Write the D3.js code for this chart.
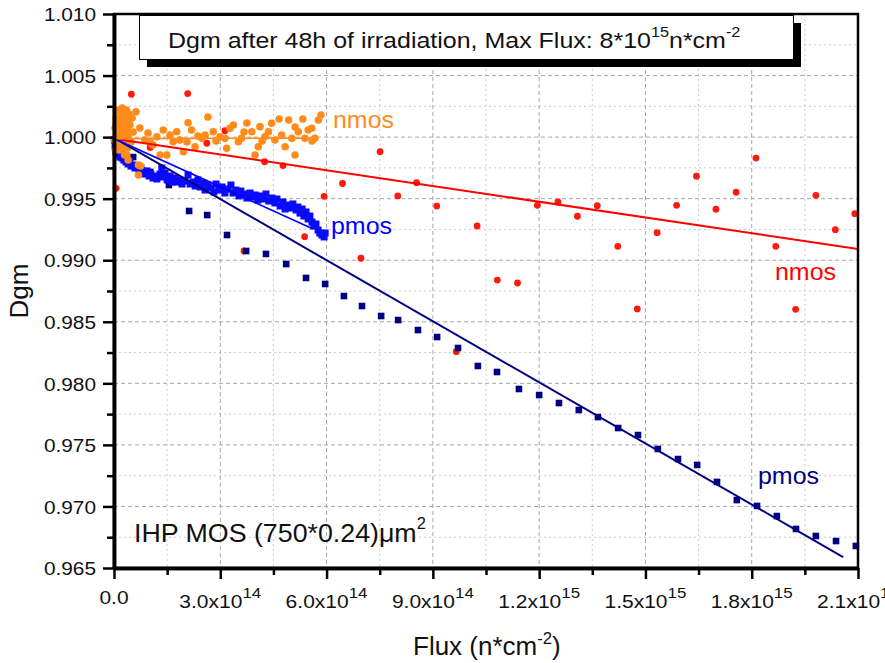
<!DOCTYPE html>
<html>
<head>
<meta charset="utf-8">
<script src="https://cdn.jsdelivr.net/npm/d3@7"></script>
<style>
body { margin: 0; background: #fff; }
text { font-family: "Liberation Sans", Arial, sans-serif; fill: #111; }
.grid-major { stroke: #a6a6a6; stroke-width: 1; stroke-dasharray: 4,3; }
.grid-minor { stroke: #cccccc; stroke-width: 1; stroke-dasharray: 2,3; }
</style>
</head>
<body>
<div id="chart"></div>
<script>
"use strict"

// flux in units of 1e14 n*cm^-2, Dgm
const nmosRed = [[0.05,0.99865],[0.06,0.99584],[0.49,1.00348],[1.02,0.99916],[2.08,1.00354],[2.62,0.99950],[3.13,1.00052],[3.67,0.99075],[4.25,0.99800],[4.77,0.99769],[5.38,0.99191],[5.93,0.99519],[6.45,0.99623],[6.97,0.99016],[7.51,0.99882],[8.01,0.99522],[8.54,0.99630],[9.11,0.99440],[9.66,0.98257],[10.25,0.99278],[10.82,0.98839],[11.39,0.98815],[11.95,0.99446],[12.53,0.99473],[13.08,0.99357],[13.64,0.99443],[14.22,0.99113],[14.77,0.98604],[15.33,0.99224],[15.88,0.99446],[16.44,0.99682],[16.99,0.99414],[17.56,0.99552],[18.12,0.99830],[18.68,0.99113],[19.24,0.98601],[19.81,0.99527],[20.36,0.99248],[20.91,0.99378]];

const pmosNavy = [[0.54,0.99838],[1.02,0.99717],[1.55,0.99611],[2.12,0.99400],[2.63,0.99367],[3.19,0.99205],[3.73,0.99075],[4.29,0.99051],[4.86,0.98969],[5.42,0.98856],[5.96,0.98807],[6.49,0.98709],[7.00,0.98628],[7.54,0.98547],[8.02,0.98514],[8.58,0.98433],[9.12,0.98376],[9.71,0.98287],[10.27,0.98141],[10.81,0.98092],[11.43,0.97954],[12.00,0.97905],[12.56,0.97840],[13.12,0.97783],[13.66,0.97726],[14.23,0.97637],[14.79,0.97580],[15.35,0.97467],[15.92,0.97385],[16.46,0.97337],[17.02,0.97199],[17.58,0.97052],[18.15,0.97004],[18.71,0.96922],[19.25,0.96817],[19.81,0.96760],[20.38,0.96719],[20.94,0.96679]];

const pmosBlue = [[0.01,0.99977],[0.03,0.99928],[0.06,0.99895],[0.08,0.99871],[0.11,0.99855],[0.14,0.99887],[0.17,0.99838],[0.20,0.99863],[0.23,0.99830],[0.25,0.99847],[0.28,0.99814],[0.31,0.99830],[0.34,0.99798],[0.37,0.99814],[0.40,0.99782],[0.45,0.99798],[0.48,0.99765],[0.54,0.99773],[0.59,0.99749],[0.65,0.99765],[0.71,0.99733],[0.76,0.99749],[0.82,0.99725],[0.87,0.99700],[0.93,0.99725],[0.99,0.99684],[1.04,0.99700],[1.10,0.99668],[1.16,0.99684],[1.21,0.99660],[1.30,0.99700],[1.35,0.99749],[1.38,0.99676],[1.44,0.99708],[1.50,0.99652],[1.58,0.99684],[1.64,0.99635],[1.72,0.99668],[1.78,0.99635],[1.86,0.99652],[1.92,0.99619],[2.00,0.99643],[2.09,0.99692],[2.15,0.99619],[2.23,0.99635],[2.29,0.99603],[2.37,0.99652],[2.43,0.99595],[2.51,0.99627],[2.57,0.99570],[2.65,0.99611],[2.74,0.99587],[2.82,0.99554],[2.88,0.99619],[2.96,0.99570],[3.05,0.99595],[3.13,0.99546],[3.22,0.99578],[3.30,0.99611],[3.36,0.99546],[3.44,0.99570],[3.53,0.99522],[3.58,0.99562],[3.67,0.99538],[3.75,0.99505],[3.84,0.99546],[3.90,0.99513],[3.98,0.99530],[4.06,0.99489],[4.15,0.99522],[4.23,0.99497],[4.29,0.99538],[4.37,0.99481],[4.46,0.99505],[4.54,0.99465],[4.60,0.99497],[4.69,0.99440],[4.77,0.99473],[4.83,0.99416],[4.91,0.99448],[5.00,0.99424],[5.05,0.99457],[5.14,0.99408],[5.19,0.99432],[5.25,0.99383],[5.31,0.99416],[5.36,0.99359],[5.42,0.99392],[5.48,0.99335],[5.53,0.99359],[5.59,0.99310],[5.64,0.99278],[5.70,0.99294],[5.76,0.99245],[5.81,0.99221],[5.87,0.99205],[5.93,0.99189],[5.96,0.99221]];

const nmosOrange = [[0.01,0.99977],[0.03,1.00074],[0.04,0.99895],[0.06,1.00155],[0.07,1.00017],[0.08,0.99936],[0.10,1.00098],[0.11,1.00220],[0.13,0.99977],[0.14,1.00041],[0.16,1.00139],[0.17,0.99895],[0.18,1.00180],[0.20,1.00074],[0.21,0.99993],[0.23,1.00236],[0.24,0.99936],[0.25,1.00123],[0.27,1.00033],[0.28,1.00204],[0.30,0.99855],[0.31,1.00082],[0.32,1.00155],[0.34,0.99977],[0.35,1.00220],[0.37,1.00058],[0.38,0.99912],[0.40,1.00139],[0.41,1.00009],[0.42,1.00188],[0.45,1.00098],[0.48,0.99960],[0.51,1.00155],[0.54,1.00041],[0.36,0.99855],[0.40,0.99814],[0.62,1.00206],[0.69,0.99773],[0.69,0.99692],[0.75,0.99765],[0.06,1.00106],[0.14,0.99936],[0.20,1.00155],[0.25,0.99977],[0.31,1.00017],[0.11,1.00058],[0.17,1.00098],[0.23,1.00058],[0.87,0.99977],[1.02,0.99960],[1.21,1.00003],[1.39,1.00058],[1.30,0.99855],[1.49,0.99855],[1.67,0.99963],[1.77,1.00044],[1.96,0.99881],[2.09,1.00117],[2.19,1.00058],[2.29,0.99922],[2.48,0.99990],[2.65,1.00163],[2.57,1.00017],[2.80,1.00044],[2.99,1.00003],[3.13,0.99990],[3.18,0.99909],[3.27,1.00072],[3.37,1.00098],[3.51,0.99963],[3.60,0.99990],[3.75,1.00115],[3.89,1.00044],[3.98,0.99855],[4.07,0.99922],[4.12,1.00085],[4.26,1.00003],[4.36,1.00044],[4.45,1.00112],[4.66,1.00147],[4.73,1.00017],[4.83,0.99922],[4.93,1.00139],[5.02,0.99990],[5.11,0.99855],[5.20,1.00044],[5.33,1.00147],[5.39,0.99990],[5.48,1.00058],[5.58,1.00072],[5.67,0.99990],[5.84,1.00180],[5.77,1.00139],[0.73,1.00074],[0.96,1.00033],[1.10,0.99936],[1.58,1.00017],[1.86,0.99977],[2.06,0.99960],[2.37,1.00009],[2.88,0.99968],[3.67,1.00041],[4.18,0.99968],[4.54,0.99977],[5.11,1.00082],[5.59,0.99968]];

// linear fits: [start, end]
const redFit = [[0,0.99986],[21,0.99092]];
const navyFit = [[0,0.99993],[20.58,0.96589]];
const blueFit = [[0,0.99989],[5.62,0.99254]];
const orangeFit = [[0,0.99988],[5.75,0.99992]];

const xTicks = [0,3,6,9,12,15,18,21];
const xTickMant = ["0.0","3.0x10","6.0x10","9.0x10","1.2x10","1.5x10","1.8x10","2.1x10"];
const xTickExp = ["","14","14","14","15","15","15","15"];
const yTicks = [0.965,0.970,0.975,0.980,0.985,0.990,0.995,1.000,1.005,1.010];

const width = 885, height = 663;
const plotLeft = 114, plotRight = 858, plotTop = 14, plotBottom = 568;

const svg = d3.select("#chart").append("svg")
    .attr("width", width)
    .attr("height", height);

const x = d3.scaleLinear().domain([0, 21e14]).range([plotLeft, plotRight]);
const y = d3.scaleLinear().domain([0.965, 1.010]).range([plotBottom, plotTop]);
const fx = d => x(d[0] * 1e14);
const fy = d => y(d[1]);

const xMinor = [1.5, 4.5, 7.5, 10.5, 13.5, 16.5, 19.5];
const yMinor = yTicks.slice(0, -1).map(v => v + 0.0025);

// text placed at (px,py), stretched sideways by sx
function place(sel, px, py, sx) {
    return sel.attr("transform", "translate(" + px + "," + py + ") scale(" + sx + ",1)");
}

// grid
const grid = svg.append("g");
grid.selectAll("line.xm").data(xMinor).enter().append("line")
    .attr("class", "grid-minor")
    .attr("x1", v => x(v * 1e14)).attr("x2", v => x(v * 1e14))
    .attr("y1", plotTop).attr("y2", plotBottom);
grid.selectAll("line.ym").data(yMinor).enter().append("line")
    .attr("class", "grid-minor")
    .attr("x1", plotLeft).attr("x2", plotRight)
    .attr("y1", v => y(v)).attr("y2", v => y(v));
grid.selectAll("line.xM").data(xTicks.slice(1, -1)).enter().append("line")
    .attr("class", "grid-major")
    .attr("x1", v => x(v * 1e14)).attr("x2", v => x(v * 1e14))
    .attr("y1", plotTop).attr("y2", plotBottom);
grid.selectAll("line.yM").data(yTicks.slice(1, -1)).enter().append("line")
    .attr("class", "grid-major")
    .attr("x1", plotLeft).attr("x2", plotRight)
    .attr("y1", v => y(v)).attr("y2", v => y(v));

// scatter
svg.append("g").selectAll("circle").data(nmosRed).enter().append("circle")
    .attr("cx", fx).attr("cy", fy).attr("r", 3.4).attr("fill", "#ff1a0d");

svg.append("g").selectAll("rect").data(pmosNavy).enter().append("rect")
    .attr("x", d => fx(d) - 3.3).attr("y", d => fy(d) - 3.3)
    .attr("width", 6.6).attr("height", 6.6).attr("fill", "#000080");

svg.append("g").selectAll("rect").data(pmosBlue).enter().append("rect")
    .attr("x", d => fx(d) - 3.5).attr("y", d => fy(d) - 3.5)
    .attr("width", 7).attr("height", 7).attr("fill", "#0a0aff");

svg.append("g").selectAll("circle").data(nmosOrange).enter().append("circle")
    .attr("cx", fx).attr("cy", fy).attr("r", 3.8).attr("fill", "#ff8c1a");

// fit lines
const line = d3.line().x(fx).y(fy);
svg.append("path").attr("d", line(redFit)).attr("fill", "none").attr("stroke", "#ff0000").attr("stroke-width", 2);
svg.append("path").attr("d", line(navyFit)).attr("fill", "none").attr("stroke", "#000080").attr("stroke-width", 2);
svg.append("path").attr("d", line(blueFit)).attr("fill", "none").attr("stroke", "#0000ff").attr("stroke-width", 1.6);
svg.append("path").attr("d", line(orangeFit)).attr("fill", "none").attr("stroke", "#ff8c1a").attr("stroke-width", 1.6);

// frame
svg.append("rect")
    .attr("x", plotLeft).attr("y", plotTop)
    .attr("width", plotRight - plotLeft).attr("height", plotBottom - plotTop)
    .attr("fill", "none").attr("stroke", "#000").attr("stroke-width", 2.5);

// axes
const yAxis = d3.axisLeft(y).tickValues(yTicks).tickSize(11).tickSizeOuter(0).tickFormat(d3.format(".3f"));
const yAxisMinor = d3.axisLeft(y).tickValues(yMinor).tickSize(7).tickSizeOuter(0).tickFormat("");
const xAxis = d3.axisBottom(x).tickValues(xTicks.map(v => v * 1e14)).tickSize(11).tickSizeOuter(0).tickFormat("");
const xAxisMinor = d3.axisBottom(x).tickValues(xMinor.map(v => v * 1e14)).tickSize(7).tickSizeOuter(0).tickFormat("");

function styleAxis(g) {
    g.select(".domain").attr("stroke-width", 3.5);
    g.selectAll(".tick line").attr("stroke-width", 2.5);
}

const gy = svg.append("g").attr("transform", "translate(" + plotLeft + ",0)").call(yAxis).call(styleAxis);
gy.selectAll(".tick text")
    .attr("x", 0)
    .attr("dy", "0.36em")
    .attr("transform", "translate(-18,0) scale(1.12,1)")
    .style("font-size", "18.6px")
    .style("font-family", "Liberation Sans, Arial, sans-serif")
    .attr("fill", "#111");
svg.append("g").attr("transform", "translate(" + plotLeft + ",0)").call(yAxisMinor).call(styleAxis);
svg.append("g").attr("transform", "translate(0," + plotBottom + ")").call(xAxis).call(styleAxis);
svg.append("g").attr("transform", "translate(0," + plotBottom + ")").call(xAxisMinor).call(styleAxis);

// x tick labels with exponents
const xl = svg.append("g").selectAll("text").data(xTicks).enter().append("text")
    .attr("transform", (v, i) => "translate(" + x(v * 1e14) + "," + (i === 0 ? 604 : 608) + ") scale(1.13,1)")
    .attr("text-anchor", "middle")
    .style("font-size", "18.6px");
xl.append("tspan").text((v, i) => xTickMant[i]);
xl.append("tspan").attr("dy", -10).style("font-size", "15px").text((v, i) => xTickExp[i]);

// axis titles
svg.append("text")
    .attr("transform", "translate(28,291) rotate(-90) scale(1.04,1)")
    .attr("text-anchor", "middle")
    .style("font-size", "25px")
    .text("Dgm");

const xt = place(svg.append("text"), 413, 655, 1.04).style("font-size", "25px");
xt.append("tspan").text("Flux (n*cm");
xt.append("tspan").attr("dy", -11).style("font-size", "16px").text("-2");
xt.append("tspan").attr("dy", 11).text(")");

// title box with shadow
svg.append("rect").attr("x", 147).attr("y", 23).attr("width", 654).attr("height", 44).attr("fill", "#000");
svg.append("rect").attr("x", 139.5).attr("y", 15.5).attr("width", 654).attr("height", 44)
    .attr("fill", "#fff").attr("stroke", "#000").attr("stroke-width", 1);
const tt = place(svg.append("text"), 168, 47.5, 1.115).style("font-size", "22.4px");
tt.append("tspan").text("Dgm after 48h of irradiation, Max Flux: 8*10");
tt.append("tspan").attr("dy", -11).style("font-size", "14.5px").text("15");
tt.append("tspan").attr("dy", 11).text("n*cm");
tt.append("tspan").attr("dy", -11).style("font-size", "14.5px").text("-2");

// device note
const note = place(svg.append("text"), 134, 542, 1.03).style("font-size", "26px");
note.append("tspan").text("IHP MOS (750*0.24)\u03bcm");
note.append("tspan").attr("dy", -13).style("font-size", "16px").text("2");

// series labels
place(svg.append("text"), 333, 128, 1.04).style("font-size", "24px").style("fill", "#ff8c1a").text("nmos");
place(svg.append("text"), 331, 234, 1.04).style("font-size", "24px").style("fill", "#0000ff").text("pmos");
place(svg.append("text"), 775, 280, 1.04).style("font-size", "24px").style("fill", "#ff0000").text("nmos");
place(svg.append("text"), 758, 484, 1.04).style("font-size", "24px").style("fill", "#000080").text("pmos");
</script>
</body>
</html>
